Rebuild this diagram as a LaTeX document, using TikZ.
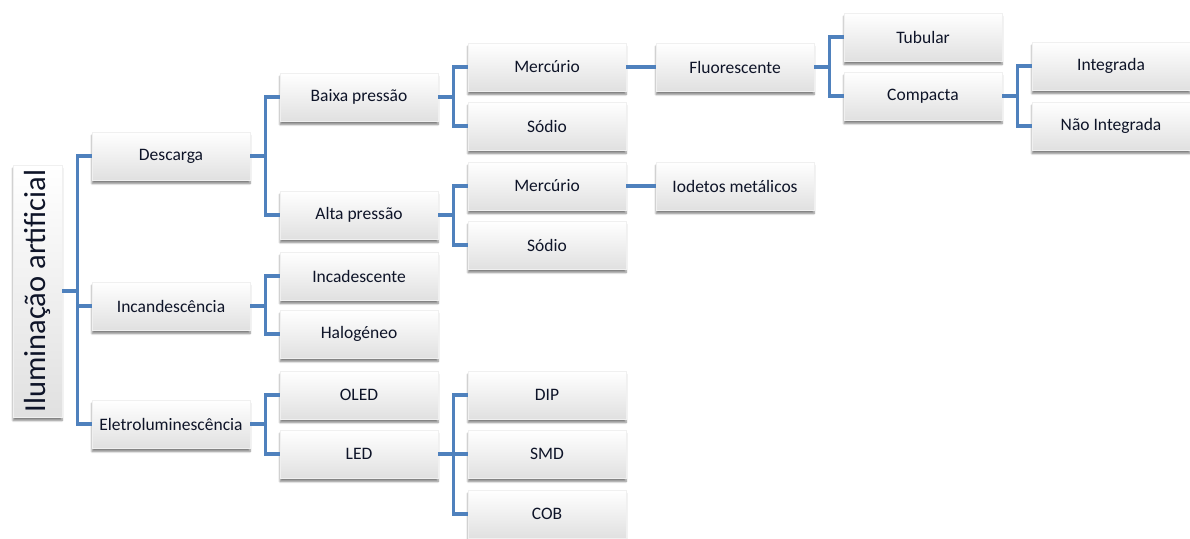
\documentclass[tikz,border=0pt]{standalone}
\usepackage{fontspec}
\setmainfont{Carlito}
\usepackage{graphicx}
\usetikzlibrary{shadows.blur}
\definecolor{conn}{RGB}{79,129,189}
\definecolor{txt}{RGB}{14,20,40}
\begin{document}
\begin{tikzpicture}[x=1pt,y=-1pt,
  box/.style={minimum width=158pt, minimum height=48pt, inner sep=0pt,
    top color=white, middle color=white, bottom color=black!12,
    draw=black!6, line width=0.3pt,
    blur shadow={shadow xshift=0pt, shadow yshift=-3.5pt, shadow blur steps=6, shadow opacity=50},
    font=\fontsize{17.5}{19}\selectfont, text=txt},
  rootbox/.style={box, minimum width=49pt, minimum height=252pt,
    font=\fontsize{30.5}{33}\selectfont},
  link/.style={draw=conn, line width=3.2pt}]
\useasboundingbox (0,0) rectangle (1190,538);

% nodes
\node[rootbox] (root) at (37.5,291) {\rotatebox{90}{Iluminação artificial}};
\node[box] (d)   at (171,156) {Descarga};
\node[box] (inc) at (171,306) {Incandescência};
\node[box] (ele) at (171,424) {Eletroluminescência};
\node[box] (bp)   at (359,97)  {Baixa pressão};
\node[box] (ap)   at (359,215) {Alta pressão};
\node[box] (incd) at (359,276) {Incadescente};
\node[box] (hal)  at (359,334) {Halogéneo};
\node[box] (oled) at (359,395) {OLED};
\node[box] (led)  at (359,454) {LED};
\node[box] (m1)  at (547,67)  {Mercúrio};
\node[box] (s1)  at (547,126) {Sódio};
\node[box] (m2)  at (547,186) {Mercúrio};
\node[box] (s2)  at (547,245) {Sódio};
\node[box] (dip) at (547,395) {DIP};
\node[box] (smd) at (547,454) {SMD};
\node[box] (cob) at (547,514) {COB};
\node[box] (fl) at (735,67)  {Fluorescente};
\node[box] (io) at (735,186) {Iodetos metálicos};
\node[box] (tub)  at (923,37) {Tubular};
\node[box] (comp) at (923,96) {Compacta};
\node[box] (int)  at (1111,66)  {Integrada};
\node[box] (nint) at (1111,126) {Não Integrada};

% connectors
\foreach \p/\c in {root/d, root/inc, root/ele,
                   d/bp, d/ap, inc/incd, inc/hal, ele/oled, ele/led,
                   bp/m1, bp/s1, ap/m2, ap/s2, led/dip, led/smd, led/cob,
                   fl/tub, fl/comp, comp/int, comp/nint}
  \draw[link] (\p.east) -- ++(15,0) |- (\c.west);
\draw[link] (m1.east) -- (fl.west);
\draw[link] (m2.east) -- (io.west);
\end{tikzpicture}
\end{document}
